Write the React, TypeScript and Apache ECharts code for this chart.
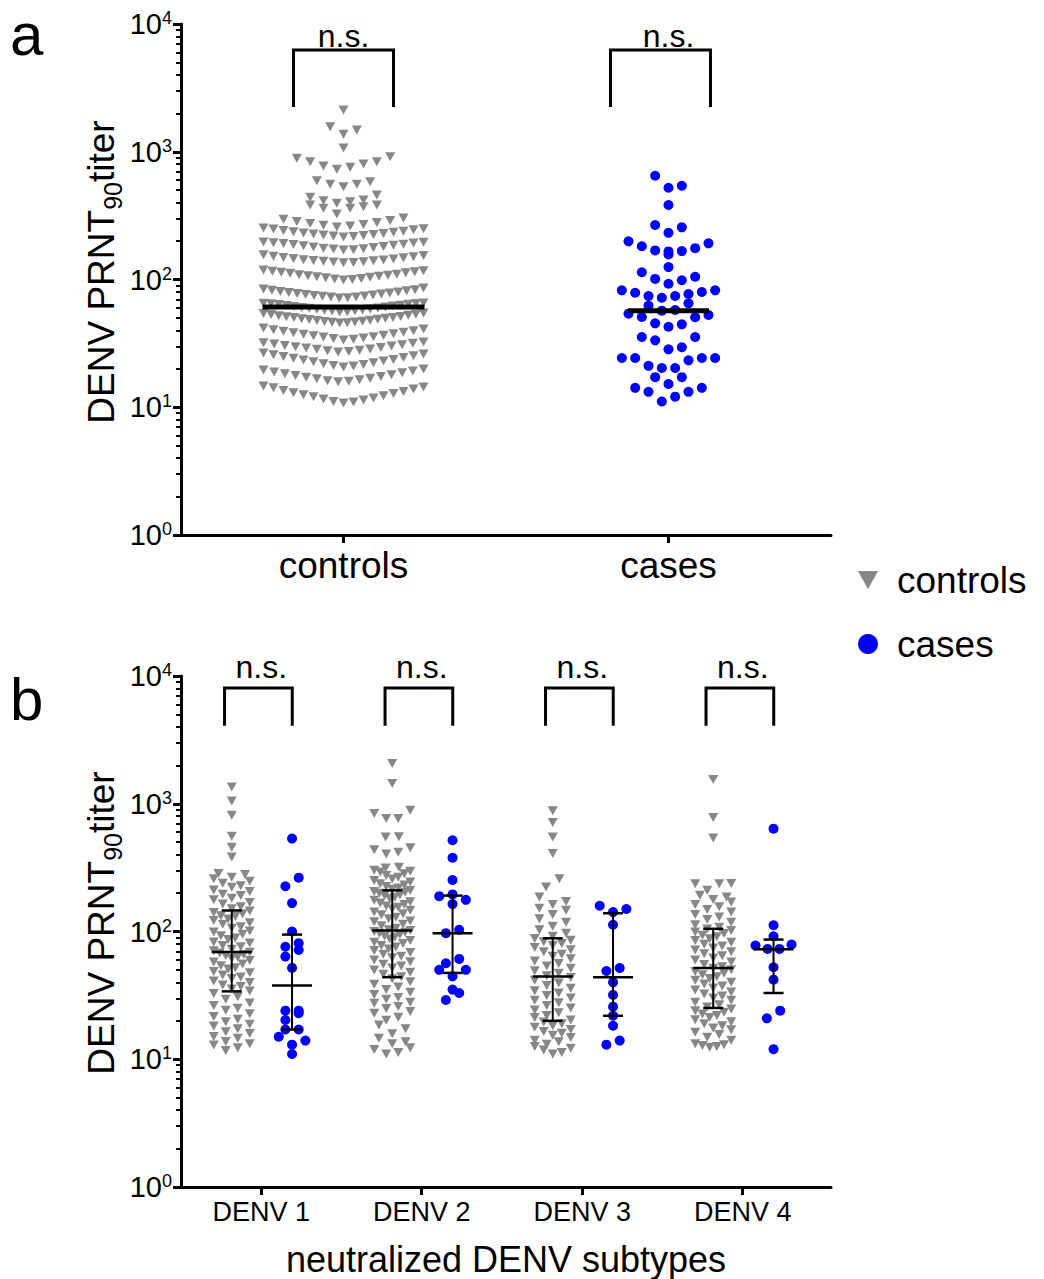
import React, { useEffect, useRef } from "react";
import * as echarts from "echarts";

const FONT = "'Liberation Sans', Arial, Helvetica, sans-serif";
const GRAY = "#878787";
const BLUE = "#0000ff";
const TRI = "path://M0,0L10,0L5,9Z";

// ---------- panel a ----------
const categoriesA = ["controls", "cases"];
// swarm rows (each inner array = one horizontal row of the GraphPad swarm), low to high
const controlsRowsA: number[][] = [
  [10.8, 11.0, 11.1, 11.4, 11.6, 11.8, 12.1, 12.3, 12.5, 12.8, 13.0, 13.3, 13.5, 13.9, 14.2, 14.4, 14.7],
  [15.8, 16.0, 16.1, 16.4, 16.7, 16.9, 17.2, 17.4, 17.7, 18.0, 18.3, 18.6, 18.9, 19.2, 19.6, 19.9],
  [20.7, 21.0, 21.2, 21.6, 21.9, 22.3, 22.7, 23.0, 23.4, 23.7, 24.2, 24.5, 25.0, 25.3, 25.8, 26.1, 26.6],
  [27.1, 27.3, 27.7, 28.0, 28.4, 28.6, 29.1, 29.3, 29.8, 30.1, 30.5, 30.9, 31.2, 31.7, 32.0, 32.4],
  [33.6, 34.0, 34.5, 34.8, 35.4, 35.7, 36.3, 36.6, 37.3, 37.6, 38.3, 38.6, 39.4, 39.7, 40.5, 40.9, 41.7],
  [45.6, 45.8, 46.2, 46.5, 47.0, 47.2, 47.8, 48.0, 48.6, 48.8, 49.4, 49.7, 50.3, 50.5, 51.2, 51.4, 52.1, 52.4, 53.1, 53.4, 54.2, 54.7],
  [55.7, 56.0, 56.6, 56.9, 57.5, 57.8, 58.5, 58.8, 59.5, 59.8, 60.5, 60.8, 61.5, 61.9, 62.6, 62.9, 63.6, 64.0, 64.6, 65.0, 65.3, 65.5],
  [71.6, 72.0, 72.8, 73.1, 73.9, 74.4, 75.1, 75.7, 76.4, 77.0, 77.8, 78.4, 79.2, 79.9, 80.7, 81.5, 82.3, 83.3, 84.4, 85.7],
  [99, 99.8, 101, 102, 103, 104, 105, 106, 107, 108, 109, 110, 112, 113, 114, 115, 116, 117, 118.6],
  [135, 136, 137, 138, 139, 140, 141, 142, 143, 145, 146, 148, 149, 151, 152, 154, 156],
  [170, 171, 173, 174, 176, 178, 180, 181, 184, 185, 188, 189, 191, 193, 194, 196, 197],
  [215, 217, 219, 221, 223, 225, 227, 229, 231, 234, 236, 239, 242, 245, 248, 250, 253],
  [258, 262, 266, 270, 274, 279, 284, 290, 296, 303],
  [326, 361, 361, 371, 383, 383],
  [395, 406, 414, 419, 440, 459],
  [533, 556, 556, 583, 593],
  [729, 755, 773, 802, 836, 836, 889, 915],
  [1070],
  [1370, 1480, 1570],
  [2120],
];
const casesRowsA: number[][] = [
  [11.1, 12.1, 13.2, 13.2, 14.2, 14.2],
  [15.2, 17.2, 17.2],
  [20.3, 20.3, 21.1, 23.3, 24.3, 24.3, 24.3, 24.3],
  [28.4, 29.5, 33.4, 35.5, 35.5],
  [42.7, 44.6, 45.4, 50.6, 50.9, 52.7, 54],
  [57, 57.7, 62.4, 65.1],
  [72, 74.3, 74.3, 77, 78.8, 79.8, 82.3, 82.3],
  [92.7, 98.6, 101, 105, 114],
  [125],
  [157],
  [166, 167, 169, 176, 182, 192, 199],
  [232, 256, 267],
  [383],
  [523, 542, 649],
];
const mediansA = [61, 57];

// ---------- panel b ----------
const subtypes = ["DENV 1", "DENV 2", "DENV 3", "DENV 4"];
const controlsDENV1 = [11.7, 12.3, 12.9, 13.2, 13.8, 14.6, 15.1, 15.9, 16.4, 17.3, 18.2, 18.8, 19.7, 20.6, 21.6, 22.7, 24.2, 25.1, 26.4, 27.6, 29.5, 30.8, 32.7,
  34.2, 35.4, 37.1, 38.2, 39.9, 41.0, 42.9, 44.1, 45.7, 47.5, 48.6, 50.9, 52.1, 54.0, 55.6, 57.7, 59.3, 61.5, 62.8, 64.9, 66.0, 67.8, 68.9,
  70.6, 72.7, 75.9, 77.8, 81.2, 82.9, 86.7, 88.8, 92.8, 95.0, 99.1, 101, 106, 109, 114, 117, 122, 125, 131, 133, 138, 141, 145,
  151, 156, 164, 169, 177, 182, 191, 196, 206, 211, 222, 228, 239, 247, 259, 266, 280, 285, 383, 456, 556, 813, 1052, 1355];
const controlsDENV2 = [11.0, 11.3, 11.9, 12.3, 13.2, 13.7, 14.6, 15.8, 17.3, 18.5, 20.2, 21.3, 22.9, 23.6, 25.0, 25.9, 27.4, 28.0, 29.5, 30.5, 32.1, 33.4, 35.2, 36.7, 38.7, 40.4, 42.7,
  44.3, 46.2, 47.9, 49.9, 51.8, 53.8, 55.5, 57.9, 59.8, 62.2, 63.9, 66.4, 68.6, 71.0, 73.1, 75.6, 77.7, 80.4, 82.5, 85.1, 87.4, 90.0, 92.3, 94.7, 96.7, 98.8, 100.2, 101.6,
  103, 106, 111, 114, 119, 121, 126, 129, 135, 138, 142, 147, 150, 155, 158, 163, 167, 171, 176, 181, 185, 191, 194, 199, 203, 206, 209,
  214, 219, 225, 231, 236, 244, 251, 258, 266, 275, 283, 292, 296, 302, 314, 318, 405, 418, 436, 452, 550, 552, 765, 768, 840, 889, 1440, 2065];
const controlsDENV3 = [11.0, 11.3, 11.8, 12.2, 12.6, 13.1, 13.7, 14.1, 14.8, 15.4, 16.0, 16.5, 17.1, 17.8, 18.3, 19.0, 19.6,
  20.3, 21.2, 22.0, 23.1, 24.3, 25.2, 26.4, 27.7, 28.9, 30.1, 31.6, 33.0, 34.4, 36.0, 37.8, 39.6, 41.5, 43.6,
  45.0, 47.2, 49.3, 51.5, 53.8, 56.1, 58.7, 61.2, 63.9, 66.5, 69.4, 72.0, 74.9, 77.6, 80.5, 83.0, 85.6, 88.0,
  92, 97, 103, 110, 118, 126, 136, 147, 152, 163, 172, 186, 223, 259, 408, 550, 713, 880];
const controlsDENV4 = [12.4, 12.6, 12.8, 13.0, 13.2, 14.1, 14.9, 15.6, 16.3, 17.0, 17.6, 18.3, 19.0, 19.7, 20.4, 21.2, 22.0, 22.6, 23.3, 24.0, 24.7,
  25.6, 26.7, 27.9, 29.0, 30.1, 31.3, 32.4, 33.6, 34.8, 36.1, 37.4, 38.8, 40.1, 41.5, 42.9, 44.3, 45.8, 47.2, 48.7, 50.1, 51.5,
  53.0, 55.2, 57.6, 59.8, 62.0, 64.5, 66.9, 69.3, 71.8, 74.4, 77.0, 79.6, 82.3, 85.1, 87.9, 90.8, 93.6, 96.4, 99.3, 102, 104.5,
  108, 113, 118, 124, 130, 136, 142, 149, 156, 163, 170, 178, 186, 192, 210, 237, 237, 238, 540, 780, 1550];
const casesDENV1 = [11, 13, 14, 15, 17.1, 17.1, 20.3, 22.9, 24, 24, 51.9, 63.6, 71.8, 76, 81, 100, 167, 226, 264, 534];
const casesDENV2 = [29.1, 33, 35.1, 44.6, 50.1, 50.1, 56.4, 61, 97, 103, 164, 177, 189, 195, 253, 378, 518];
const casesDENV3 = [13, 14, 18.3, 21.9, 25.8, 31.9, 40, 49.1, 51.8, 113, 142, 150, 159];
const casesDENV4 = [12, 20.9, 24, 42, 52.5, 73.1, 73.1, 77.7, 79, 91.8, 112, 638];
const controlsB = [controlsDENV1, controlsDENV2, controlsDENV3, controlsDENV4];
const casesB = [casesDENV1, casesDENV2, casesDENV3, casesDENV4];
const controlsMedianB = [69, 102, 44.4, 51.9];
const controlsQ1B = [34, 43.9, 20, 25.2];
const controlsQ3B = [146, 210, 88.5, 105];
const casesMedianB = [37.7, 97, 43.9, 72.6];
const casesQ1B = [17.1, 47.4, 21.9, 33];
const casesQ3B = [94.6, 191, 139, 86.5];

// ---------- layout helpers ----------
const GRID_W = 650;
const PX_A = GRID_W / 2;
const XMAX_B = 4.05;
const PX_B = GRID_W / XMAX_B;
const STEP = 13.33;

function slotOrder(n: number): number[] {
  const out: number[] = [];
  if (n % 2 === 1) {
    out.push(0);
    for (let k = 1; out.length < n; k++) {
      out.push(k);
      if (out.length < n) out.push(-k);
    }
  } else {
    for (let k = 0; out.length < n; k++) {
      out.push(-(k + 0.5));
      out.push(k + 0.5);
    }
  }
  return out;
}

function layoutRows(rows: number[][], center: number, pxPerUnit: number, maxWidth: number) {
  const pts: number[][] = [];
  rows.forEach((row) => {
    const vals = [...row].sort((a, b) => a - b);
    const n = vals.length;
    const step = n > 1 ? Math.min(STEP, maxWidth / (n - 1)) : 0;
    const slots = slotOrder(n);
    vals.forEach((v, i) => pts.push([center + (slots[i] * step) / pxPerUnit, v]));
  });
  return pts;
}

function binRows(values: number[], w: number): number[][] {
  const s = [...values].sort((a, b) => a - b);
  const rows: number[][] = [];
  let cur: number[] = [];
  let start = 0;
  s.forEach((v) => {
    const l = Math.log10(v);
    if (cur.length && l - start >= w) {
      rows.push(cur);
      cur = [];
    }
    if (!cur.length) start = l;
    cur.push(v);
  });
  if (cur.length) rows.push(cur);
  return rows;
}

const CTRL_OFF = -29.5 / PX_B;
const CASE_OFF = 30.8 / PX_B;

export default function App() {
  const ref = useRef<HTMLDivElement>(null);
  useEffect(() => {
    const chart = echarts.init(ref.current!, null, { renderer: "svg" });

    const minorLogs: number[] = [];
    for (let d = 0; d < 4; d++) for (let k = 2; k <= 9; k++) minorLogs.push(d + Math.log10(k));

    const yLabel = {
      formatter: (v: number) => `{b|10}{s|${Math.round(Math.log10(v))}}`,
      margin: 9,
      fontSize: 29,
      fontFamily: FONT,
      color: "#000",
      rich: {
        b: { fontSize: 29, fontFamily: FONT, color: "#000" },
        s: { fontSize: 18, fontFamily: FONT, color: "#000", padding: [0, 0, 12, 0] },
      },
    };
    const logAxis = (gridIndex: number) => ({
      type: "log", logBase: 10, gridIndex, min: 1, max: 10000, position: "left",
      axisLine: { show: true, onZero: false, lineStyle: { color: "#000", width: 3 } },
      axisTick: { show: true, length: 8, lineStyle: { color: "#000", width: 3 } },
      axisLabel: yLabel,
      splitLine: { show: false },
    });
    const minorAxis = (gridIndex: number) => ({
      type: "value", gridIndex, min: 0, max: 4, position: "left",
      axisLine: { show: false, onZero: false },
      axisLabel: { show: false },
      splitLine: { show: false },
      axisTick: { show: true, length: 5, customValues: minorLogs, lineStyle: { color: "#000", width: 2 } },
    });

    const ctrlA = layoutRows(controlsRowsA, 0, PX_A, 160);
    const caseA = layoutRows(casesRowsA, 1, PX_A, 160);
    const ctrlB: number[][] = [];
    const caseB: number[][] = [];
    controlsB.forEach((vals, i) => ctrlB.push(...layoutRows(binRows(vals, 0.07), i + 0.5 + CTRL_OFF, PX_B, 36)));
    casesB.forEach((vals, i) => caseB.push(...layoutRows(binRows(vals, 0.07), i + 0.5 + CASE_OFF, PX_B, 36)));

    const line = (x1: number, y1: number, x2: number, y2: number, w: number) => ({
      type: "line", shape: { x1, y1, x2, y2 }, style: { stroke: "#000", lineWidth: w },
    });

    const bracketSeries = (xIdx: number, yIdx: number, data: number[][], textGap: number) => ({
      type: "custom", xAxisIndex: xIdx, yAxisIndex: yIdx, z: 5, silent: true,
      encode: { x: [0, 3, 4], y: [1, 2] },
      data,
      renderItem: (_p: any, api: any) => {
        const xc = api.value(0), yt = api.value(1), yb = api.value(2), l = api.value(3), r = api.value(4);
        const tl = api.coord([xc + l, yt]), tr = api.coord([xc + r, yt]);
        const bl = api.coord([xc + l, yb]), br = api.coord([xc + r, yb]);
        const mid = api.coord([xc, yt]);
        return {
          type: "group",
          children: [
            { type: "polyline", shape: { points: [bl, tl, tr, br] }, style: { stroke: "#000", lineWidth: 3, fill: null } },
            { type: "text", x: mid[0], y: tl[1] - textGap, style: { text: "n.s.", fontSize: 32, fontFamily: FONT, fill: "#000", align: "center", verticalAlign: "middle" } },
          ],
        };
      },
    });

    const scatterStyle = (color: string) => ({ color, opacity: 1 });

    const option: any = {
      animation: false,
      backgroundColor: "#fff",
      grid: [
        { left: 181, top: 24, width: GRID_W, height: 511 },
        { left: 181, top: 676, width: GRID_W, height: 511 },
      ],
      xAxis: [
        {
          type: "value", gridIndex: 0, min: -0.5, max: 1.5, position: "bottom",
          axisLine: { onZero: false, lineStyle: { color: "#000", width: 3 } },
          axisTick: { customValues: [0, 1], length: 8, lineStyle: { color: "#000", width: 3 } },
          axisLabel: { customValues: [0, 1], formatter: (v: number) => categoriesA[Math.round(v)], fontSize: 37, color: "#000", fontFamily: FONT, margin: 12 },
          splitLine: { show: false },
        },
        {
          type: "value", gridIndex: 1, min: 0, max: XMAX_B, position: "bottom",
          axisLine: { onZero: false, lineStyle: { color: "#000", width: 3 } },
          axisTick: { customValues: [0.5, 1.5, 2.5, 3.5], length: 8, lineStyle: { color: "#000", width: 3 } },
          axisLabel: { customValues: [0.5, 1.5, 2.5, 3.5], formatter: (v: number) => subtypes[Math.round(v - 0.5)], fontSize: 27, color: "#000", fontFamily: FONT, margin: 11 },
          splitLine: { show: false },
          name: "neutralized DENV subtypes", nameLocation: "middle", nameGap: 54,
          nameTextStyle: { fontSize: 36, fontFamily: FONT, color: "#000" },
        },
      ],
      yAxis: [logAxis(0), minorAxis(0), logAxis(1), minorAxis(1)],
      legend: {
        orient: "vertical", left: 853, top: 555, itemWidth: 20, itemHeight: 20, itemGap: 24, selectedMode: false,
        data: [
          { name: "controls", icon: "path://M0,0L20,0L10,18Z" },
          { name: "cases", icon: "circle" },
        ],
        itemStyle: { opacity: 1 },
        textStyle: { fontSize: 37, fontFamily: FONT, color: "#000", lineHeight: 40, padding: [0, 0, 0, 14] },
      },
      graphic: [
        { type: "text", x: 10, y: 34, style: { text: "a", fontSize: 60, fontFamily: FONT, fill: "#000", verticalAlign: "middle" } },
        { type: "text", x: 10, y: 699, style: { text: "b", fontSize: 60, fontFamily: FONT, fill: "#000", verticalAlign: "middle" } },
        ...[272, 923].map((cy) => ({
          type: "text", x: 101, y: cy, rotation: Math.PI / 2,
          style: {
            text: "{m|DENV PRNT}{s|90}{m|titer}", align: "center", verticalAlign: "middle",
            rich: {
              m: { fontSize: 37, fontFamily: FONT, fill: "#000", lineHeight: 40 },
              s: { fontSize: 25, fontFamily: FONT, fill: "#000", lineHeight: 25, padding: [24, 0, 0, 0] },
            },
          },
        })),
      ],
      series: [
        { name: "controls", type: "scatter", xAxisIndex: 0, yAxisIndex: 0, symbol: TRI, symbolSize: [10, 9], itemStyle: scatterStyle(GRAY), data: ctrlA, z: 2 },
        { name: "cases", type: "scatter", xAxisIndex: 0, yAxisIndex: 0, symbol: "circle", symbolSize: 10, itemStyle: scatterStyle(BLUE), data: caseA, z: 2 },
        { name: "controls", type: "scatter", xAxisIndex: 1, yAxisIndex: 2, symbol: TRI, symbolSize: [10, 9], itemStyle: scatterStyle(GRAY), data: ctrlB, z: 2 },
        { name: "cases", type: "scatter", xAxisIndex: 1, yAxisIndex: 2, symbol: "circle", symbolSize: 10, itemStyle: scatterStyle(BLUE), data: caseB, z: 2 },
        {
          type: "custom", xAxisIndex: 0, yAxisIndex: 0, z: 4, silent: true,
          encode: { x: 0, y: 1 },
          data: mediansA.map((m, i) => [i, m, i === 0 ? 81 : 40.5]),
          renderItem: (_p: any, api: any) => {
            const p = api.coord([api.value(0), api.value(1)]);
            const hw = api.value(2);
            return line(p[0] - hw, p[1], p[0] + hw, p[1], 5);
          },
        },
        {
          type: "custom", xAxisIndex: 1, yAxisIndex: 2, z: 4, silent: true,
          encode: { x: 0, y: [1, 2, 3] },
          data: [
            ...controlsMedianB.map((m, i) => [i + 0.5 + CTRL_OFF, m, controlsQ1B[i], controlsQ3B[i]]),
            ...casesMedianB.map((m, i) => [i + 0.5 + CASE_OFF, m, casesQ1B[i], casesQ3B[i]]),
          ],
          renderItem: (_p: any, api: any) => {
            const x = api.value(0);
            const pm = api.coord([x, api.value(1)]);
            const pl = api.coord([x, api.value(2)]);
            const ph = api.coord([x, api.value(3)]);
            return {
              type: "group",
              children: [
                line(pl[0], pl[1], ph[0], ph[1], 2),
                line(pl[0] - 10, pl[1], pl[0] + 10, pl[1], 2.5),
                line(ph[0] - 10, ph[1], ph[0] + 10, ph[1], 2.5),
                line(pm[0] - 20, pm[1], pm[0] + 20, pm[1], 2.5),
              ],
            };
          },
        },
        bracketSeries(0, 0, [
          [0, 6250, 2240, -50 / PX_A, 50 / PX_A],
          [1, 6250, 2240, -58 / PX_A, 42 / PX_A],
        ], 14),
        bracketSeries(1, 2, [0, 1, 2, 3].map((i) => [i + 0.5, 8054, 4074, -36.7 / PX_B, 31 / PX_B]), 21),
      ],
    };
    chart.setOption(option);
    return () => chart.dispose();
  }, []);
  return <div ref={ref} style={{ position: "absolute", left: 0, top: 0, width: 1044, height: 1279 }} />;
}
